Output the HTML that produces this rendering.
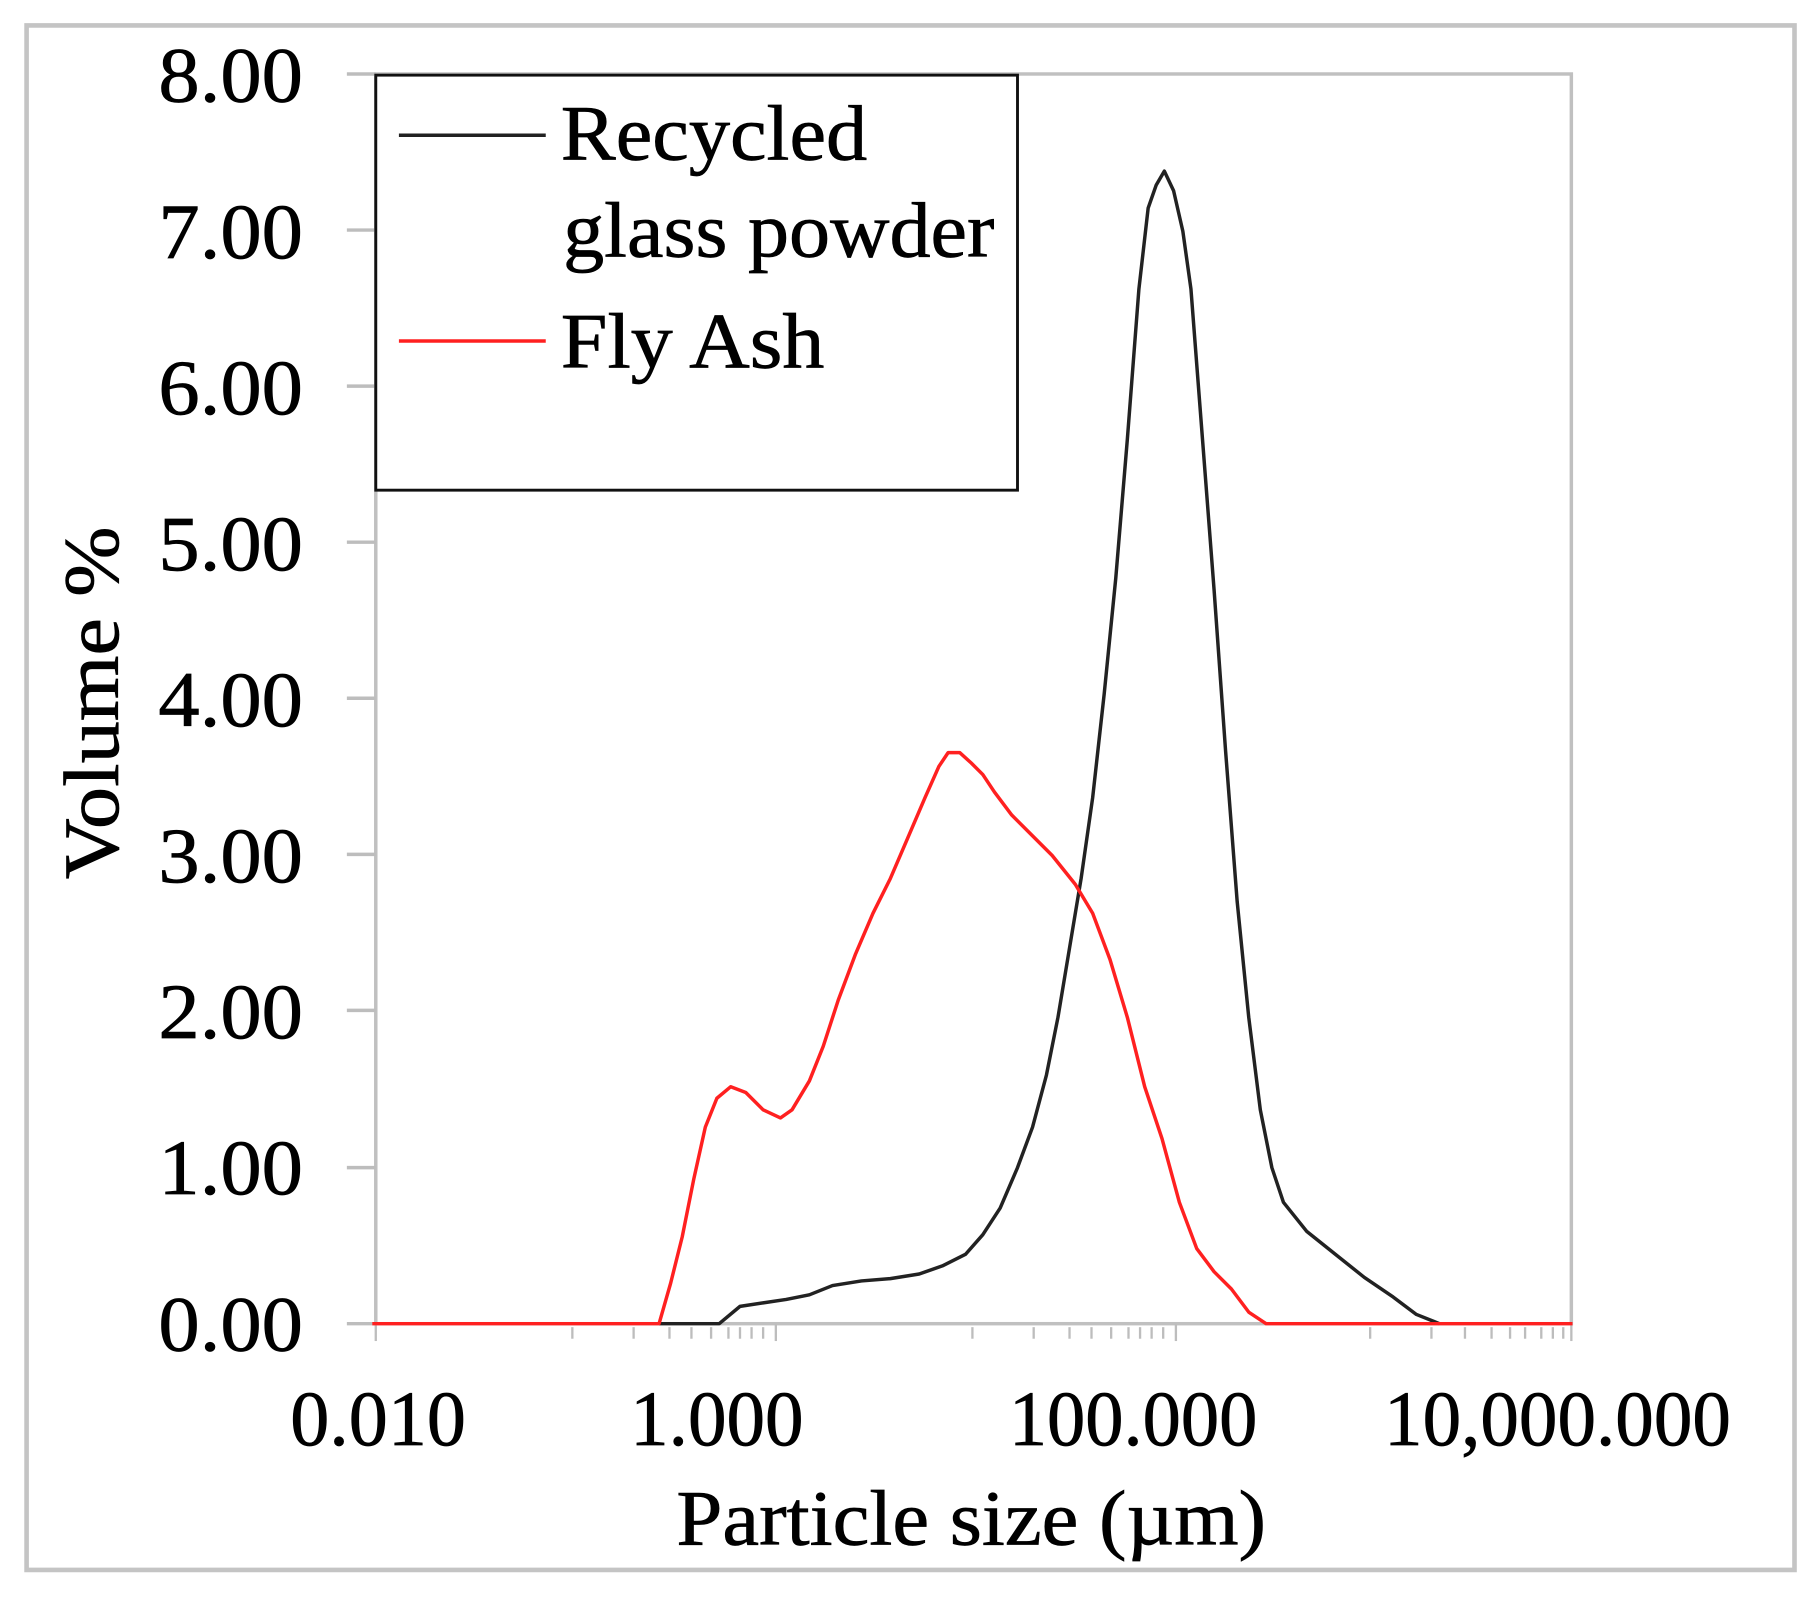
<!DOCTYPE html>
<html><head><meta charset="utf-8"><style>
html,body{margin:0;padding:0;background:#fff;}
svg{display:block;}
text{font-family:"Liberation Serif",serif;fill:#000;stroke:#000;stroke-width:0.6;}
</style></head><body>
<svg width="1813" height="1600" viewBox="0 0 1568 1384" preserveAspectRatio="none" xmlns="http://www.w3.org/2000/svg">
<rect x="0" y="0" width="1568" height="1384" fill="#fff"/>
<rect x="23" y="22" width="1529" height="1336" fill="none" stroke="#c4c4c4" stroke-width="4"/>
<rect x="325" y="64" width="1034" height="1081" fill="none" stroke="#c0c0c0" stroke-width="3"/>
<g stroke="#bdbdbd" stroke-width="3">
<line x1="300" y1="64" x2="325" y2="64"/><line x1="300" y1="199" x2="325" y2="199"/>
<line x1="300" y1="334" x2="325" y2="334"/><line x1="300" y1="469" x2="325" y2="469"/>
<line x1="300" y1="604" x2="325" y2="604"/><line x1="300" y1="739" x2="325" y2="739"/>
<line x1="300" y1="874" x2="325" y2="874"/><line x1="300" y1="1010" x2="325" y2="1010"/>
<line x1="300" y1="1145" x2="325" y2="1145"/>
</g>
<g stroke="#bdbdbd" stroke-width="2">
<line x1="325" y1="1145" x2="325" y2="1160"/>
<line x1="671" y1="1145" x2="671" y2="1160"/>
<line x1="1017" y1="1145" x2="1017" y2="1160"/>
<line x1="1359" y1="1145" x2="1359" y2="1160"/>
</g>
<g stroke="#bdbdbd" stroke-width="2">
<line x1="495" y1="1148" x2="495" y2="1158"/><line x1="548" y1="1148" x2="548" y2="1158"/><line x1="579" y1="1148" x2="579" y2="1158"/><line x1="598" y1="1148" x2="598" y2="1158"/><line x1="615" y1="1148" x2="615" y2="1158"/><line x1="630" y1="1148" x2="630" y2="1158"/><line x1="640" y1="1148" x2="640" y2="1158"/><line x1="650" y1="1148" x2="650" y2="1158"/><line x1="660" y1="1148" x2="660" y2="1158"/>
<line x1="841" y1="1148" x2="841" y2="1158"/><line x1="894" y1="1148" x2="894" y2="1158"/><line x1="925" y1="1148" x2="925" y2="1158"/><line x1="944" y1="1148" x2="944" y2="1158"/><line x1="961" y1="1148" x2="961" y2="1158"/><line x1="976" y1="1148" x2="976" y2="1158"/><line x1="986" y1="1148" x2="986" y2="1158"/><line x1="996" y1="1148" x2="996" y2="1158"/><line x1="1006" y1="1148" x2="1006" y2="1158"/>
<line x1="1185" y1="1148" x2="1185" y2="1158"/><line x1="1238" y1="1148" x2="1238" y2="1158"/><line x1="1267" y1="1148" x2="1267" y2="1158"/><line x1="1290" y1="1148" x2="1290" y2="1158"/><line x1="1306" y1="1148" x2="1306" y2="1158"/><line x1="1319" y1="1148" x2="1319" y2="1158"/><line x1="1333" y1="1148" x2="1333" y2="1158"/><line x1="1343" y1="1148" x2="1343" y2="1158"/><line x1="1352" y1="1148" x2="1352" y2="1158"/>
</g>
<polyline fill="none" stroke="#222" stroke-width="3" stroke-linejoin="round" points="570,1145 622,1145 640,1130 660,1127 680,1124 700,1120 720,1112 745,1108 770,1106 795,1102 815,1095 835,1085 850,1068 865,1045 880,1010 893,975 905,930 915,880 925,820 935,760 945,690 955,600 965,500 975,380 985,250 993,180 1000,160 1007,148 1015,165 1023,200 1030,250 1040,380 1050,510 1060,650 1070,780 1080,880 1090,960 1100,1010 1110,1040 1130,1065 1155,1085 1180,1105 1205,1122 1225,1137 1240,1143 1245,1145"/>
<polyline fill="none" stroke="#ff2020" stroke-width="3" stroke-linejoin="round" points="322,1145 570,1145 580,1110 590,1070 600,1020 610,975 620,950 632,940 645,945 660,960 675,967 685,960 700,935 712,905 725,865 740,825 755,790 770,760 785,725 800,690 812,663 820,651 830,651 840,660 850,670 860,685 875,705 890,720 910,740 930,765 945,790 960,830 975,880 990,940 1005,985 1020,1040 1035,1080 1050,1100 1065,1115 1080,1135 1095,1145 1360,1145"/>
<rect x="325" y="65" width="555" height="359" fill="#fff" stroke="#111" stroke-width="2.5"/>
<line x1="345" y1="117" x2="472" y2="117" stroke="#222" stroke-width="3"/>
<line x1="345" y1="295" x2="472" y2="295" stroke="#ff2020" stroke-width="3"/>
<text x="485" y="138" font-size="68" textLength="265" lengthAdjust="spacingAndGlyphs">Recycled</text>
<text x="487" y="222" font-size="68" textLength="373" lengthAdjust="spacingAndGlyphs">glass powder</text>
<text x="485" y="318" font-size="68" textLength="228" lengthAdjust="spacingAndGlyphs">Fly Ash</text>
<g font-size="68" text-anchor="end">
<text x="262" y="88" textLength="125" lengthAdjust="spacingAndGlyphs">8.00</text>
<text x="262" y="223" textLength="125" lengthAdjust="spacingAndGlyphs">7.00</text>
<text x="262" y="358" textLength="125" lengthAdjust="spacingAndGlyphs">6.00</text>
<text x="262" y="493" textLength="125" lengthAdjust="spacingAndGlyphs">5.00</text>
<text x="262" y="628" textLength="125" lengthAdjust="spacingAndGlyphs">4.00</text>
<text x="262" y="763" textLength="125" lengthAdjust="spacingAndGlyphs">3.00</text>
<text x="262" y="898" textLength="125" lengthAdjust="spacingAndGlyphs">2.00</text>
<text x="262" y="1033" textLength="125" lengthAdjust="spacingAndGlyphs">1.00</text>
<text x="262" y="1168" textLength="125" lengthAdjust="spacingAndGlyphs">0.00</text>
</g>
<g font-size="68" text-anchor="middle">
<text x="327" y="1250" textLength="152" lengthAdjust="spacingAndGlyphs">0.010</text>
<text x="620" y="1250" textLength="150" lengthAdjust="spacingAndGlyphs">1.000</text>
<text x="980" y="1250" textLength="215" lengthAdjust="spacingAndGlyphs">100.000</text>
<text x="1347" y="1250" textLength="300" lengthAdjust="spacingAndGlyphs">10,000.000</text>
<text x="840" y="1336" textLength="510" lengthAdjust="spacingAndGlyphs">Particle size (µm)</text>
</g>
<text transform="translate(102,608) rotate(-90)" font-size="68" text-anchor="middle" textLength="305" lengthAdjust="spacingAndGlyphs">Volume %</text>
</svg>
</body></html>
